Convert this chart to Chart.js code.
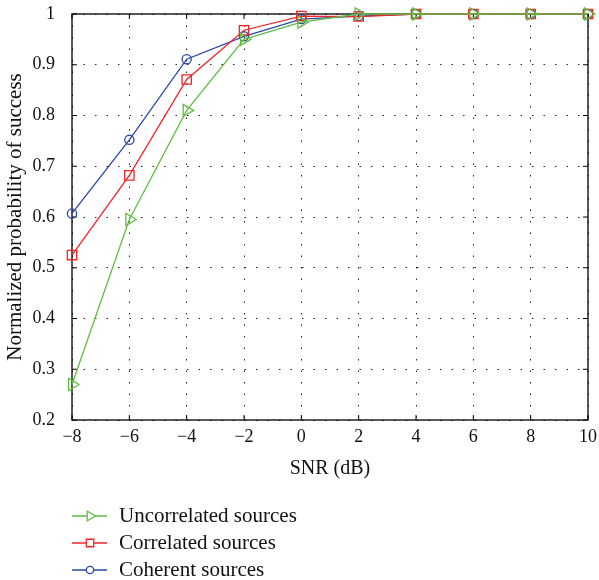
<!DOCTYPE html>
<html>
<head>
<meta charset="utf-8">
<script src="https://cdn.jsdelivr.net/npm/chart.js@4"></script>
<style>
  html, body { margin: 0; padding: 0; background: #fff; overflow: hidden; }
  #wrap { width: 620px; height: 580px; }
</style>
</head>
<body>
<div id="wrap"><canvas id="snrChart" width="620" height="580"></canvas></div>
<script>
const snr = [-8, -6, -4, -2, 0, 2, 4, 6, 8, 10];
const uncorrelated = [0.27, 0.595, 0.81, 0.95, 0.984, 1.0, 1.0, 1.0, 1.0, 1.0];
const correlated = [0.525, 0.682, 0.871, 0.968, 0.996, 0.995, 1.0, 1.0, 1.0, 1.0];
const coherent = [0.607, 0.752, 0.911, 0.956, 0.99, 0.996, 1.0, 1.0, 1.0, 1.0];
const seriesNames = ['Uncorrelated sources', 'Correlated sources', 'Coherent sources'];
const xTicks = [-8, -6, -4, -2, 0, 2, 4, 6, 8, 10];
const yTicks = [0.2, 0.3, 0.4, 0.5, 0.6, 0.7, 0.8, 0.9, 1];

const serif = "'Liberation Serif', 'DejaVu Serif', serif";

function pts(vals) {
    return vals.map((v, i) => ({ x: snr[i], y: v }));
}

// box round the plot, with inward ticks on all four sides
const boxPlugin = {
    id: 'box',
    beforeDatasetsDraw(chart) {
        const { ctx, chartArea: a, scales } = chart;
        ctx.save();
        ctx.strokeStyle = '#000';
        ctx.lineWidth = 1.3;
        ctx.strokeRect(a.left, a.top, a.right - a.left, a.bottom - a.top);
        ctx.lineWidth = 1;
        ctx.beginPath();
        xTicks.forEach(t => {
            const x = scales.x.getPixelForValue(t);
            ctx.moveTo(x, a.bottom); ctx.lineTo(x, a.bottom - 5);
            ctx.moveTo(x, a.top); ctx.lineTo(x, a.top + 5);
        });
        yTicks.forEach(t => {
            const y = scales.y.getPixelForValue(t);
            ctx.moveTo(a.left, y); ctx.lineTo(a.left + 5, y);
            ctx.moveTo(a.right, y); ctx.lineTo(a.right - 5, y);
        });
        ctx.stroke();
        ctx.restore();
    }
};

// vertical legend under the axis title
const legendPlugin = {
    id: 'vlegend',
    afterDraw(chart) {
        const ctx = chart.ctx;
        const rows = [516, 543, 570];
        ctx.save();
        chart.data.datasets.forEach((ds, i) => {
            const y = rows[i];
            ctx.strokeStyle = ds.borderColor;
            ctx.lineWidth = 1.3;
            ctx.beginPath();
            ctx.moveTo(72, y); ctx.lineTo(107, y);
            ctx.stroke();
            ctx.fillStyle = '#fff';
            ctx.strokeStyle = ds.pointBorderColor;
            Chart.helpers.drawPoint(ctx, {
                pointStyle: ds.pointStyle,
                radius: ds.pointRadius * 0.8,
                rotation: ds.pointRotation || 0,
                borderWidth: 1.3
            }, 90, y);
            ctx.fillStyle = '#111';
            ctx.font = '21px ' + serif;
            ctx.textBaseline = 'middle';
            ctx.fillText(ds.label, 119, y);
        });
        ctx.restore();
    }
};

function makeSet(label, data, color, style, radius, rotation) {
    return {
        label: label,
        data: pts(data),
        borderColor: color,
        pointBorderColor: color,
        pointBackgroundColor: 'rgba(255,255,255,0)',
        borderWidth: 1.3,
        pointBorderWidth: 1.3,
        pointStyle: style,
        pointRadius: radius,
        pointRotation: rotation,
        tension: 0,
        clip: false
    };
}

new Chart(document.getElementById('snrChart'), {
    type: 'line',
    data: {
        datasets: [
            makeSet(seriesNames[0], uncorrelated, '#62bd45', 'triangle', 7, 90),
            makeSet(seriesNames[1], correlated, '#ee2626', 'rect', 6.6, 0),
            makeSet(seriesNames[2], coherent, '#2a48a8', 'circle', 4.6, 0)
        ]
    },
    options: {
        responsive: false,
        animation: false,
        layout: { padding: { left: 0, right: 32, top: 14, bottom: 90 } },
        plugins: { legend: { display: false }, tooltip: { enabled: false } },
        scales: {
            x: {
                type: 'linear',
                min: -8, max: 10,
                afterFit(s) { s.height = 70; s.paddingLeft = 0; s.paddingRight = 0; },
                afterBuildTicks(s) { s.ticks = xTicks.map(v => ({ value: v })); },
                border: { display: false, dash: [1.5, 10] },
                grid: { color: '#222', lineWidth: 1, drawTicks: false },
                ticks: {
                    padding: 6, color: '#111', maxRotation: 0,
                    font: { family: serif, size: 18 },
                    callback: v => v < 0 ? '\u2212' + Math.abs(v) : String(v)
                },
                title: {
                    display: true, text: 'SNR (dB)', color: '#111',
                    font: { family: serif, size: 20 },
                    padding: { top: 0, bottom: 9 }
                }
            },
            y: {
                min: 0.2, max: 1,
                afterFit(s) { s.width = 72; s.paddingTop = 0; s.paddingBottom = 0; },
                afterBuildTicks(s) { s.ticks = yTicks.map(v => ({ value: v })); },
                border: { display: false, dash: [1.5, 10] },
                grid: { color: '#222', lineWidth: 1, drawTicks: false },
                ticks: {
                    padding: 17, color: '#111',
                    font: { family: serif, size: 18 },
                    callback: v => String(Math.round(v * 10) / 10)
                },
                title: {
                    display: true, text: 'Normalized probability of success', color: '#111',
                    font: { family: serif, size: 21 },
                    padding: { top: 3, bottom: 0 }
                }
            }
        }
    },
    plugins: [boxPlugin, legendPlugin]
});
</script>
</body>
</html>
